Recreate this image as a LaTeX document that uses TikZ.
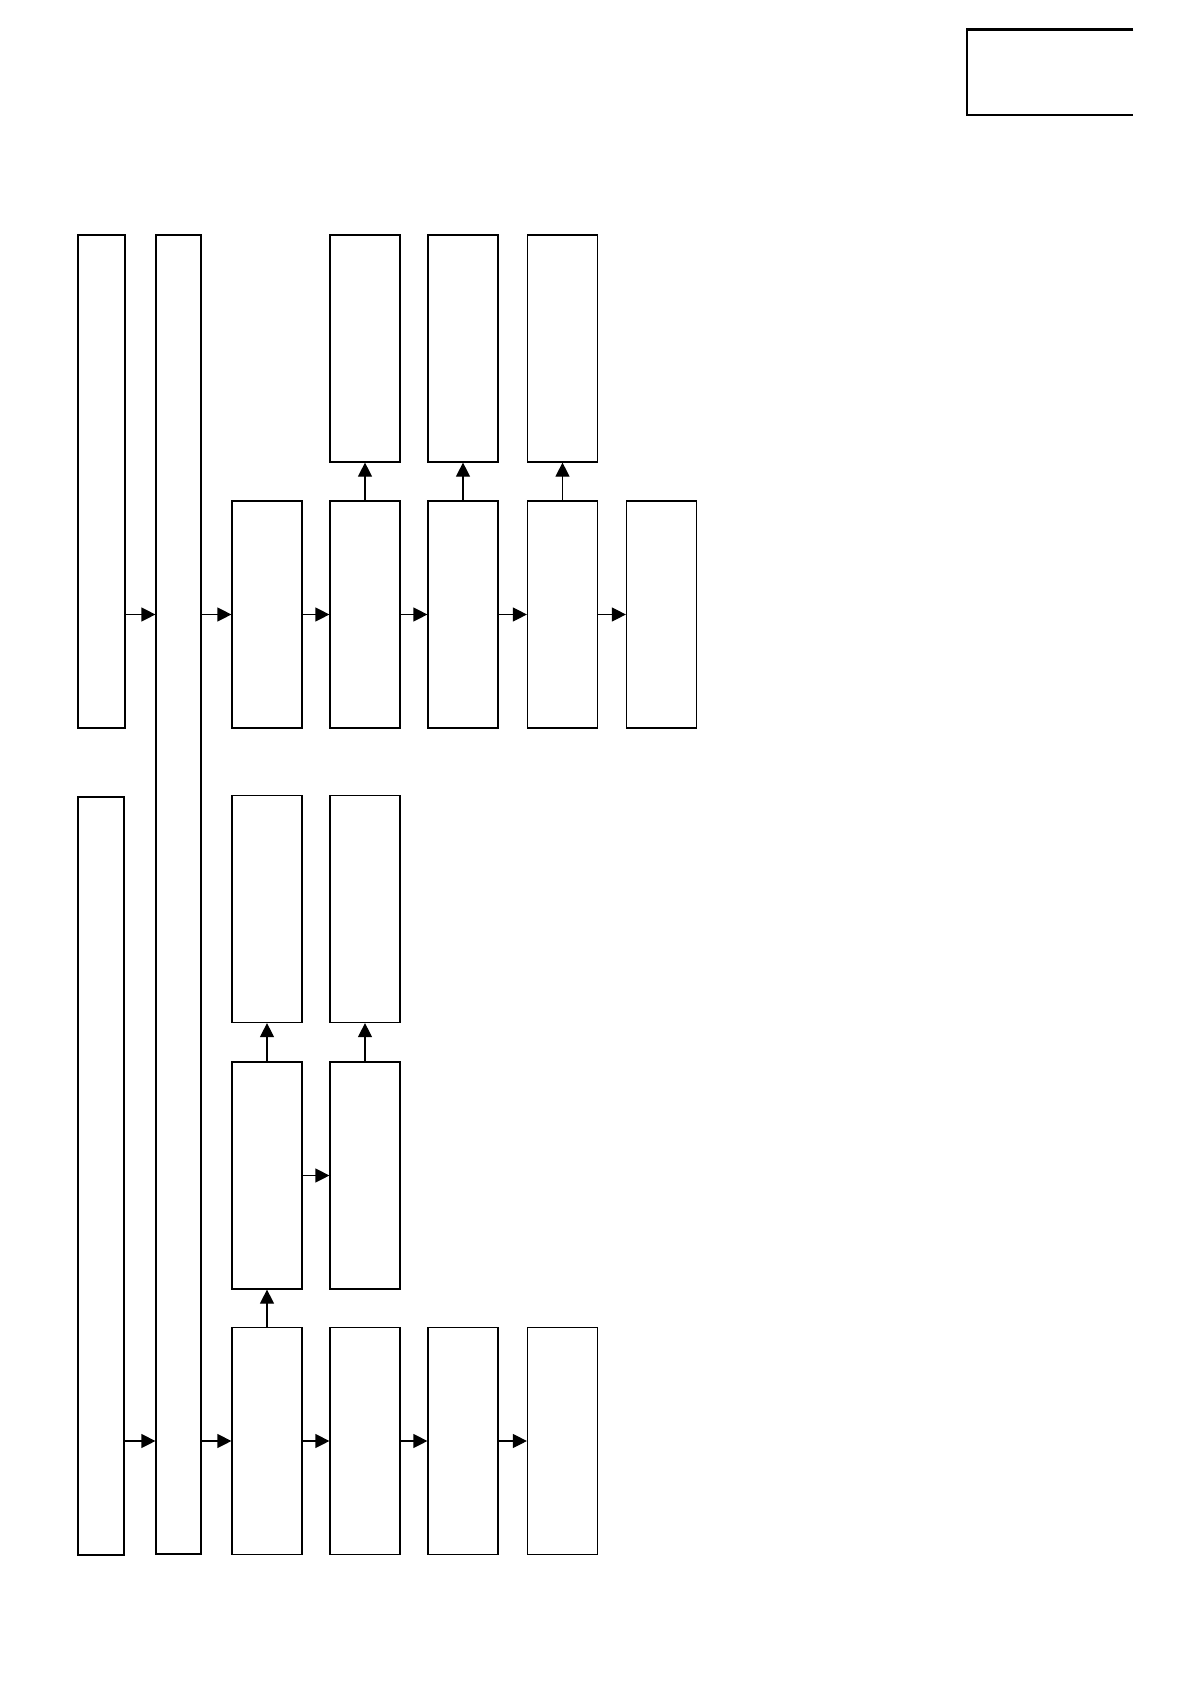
\documentclass[tikz,border=0pt]{standalone}
\usetikzlibrary{arrows.meta}
\begin{document}
\begin{tikzpicture}[x=0.5pt,y=-0.5pt,
  box/.style={draw, line width=0.6pt, inner sep=0pt, minimum width=35pt, minimum height=113.5pt},
  thickbox/.style={draw, line width=1.2pt, inner sep=0pt},
  arr/.style={line width=0.6pt, -{Triangle[length=7pt,width=7pt]}}]
\useasboundingbox (0,0) rectangle (1190,1684);
% legend box open on the right
\node[inner sep=0pt, minimum width=83pt, minimum height=42.5pt] (legend) at (1050,72.5) {};
\draw[line width=1.1pt] (legend.north east) -- (legend.north west) -- (legend.south west) -- (legend.south east);
% left columns
\node[thickbox, minimum width=23.5pt, minimum height=246.5pt] (t1) at (101.5,481.5) {};
\node[thickbox, minimum width=23pt, minimum height=379pt] (t2) at (101,1176) {};
\node[box, minimum width=22.5pt, minimum height=659.5pt] (long) at (178.5,894.5) {};
% row 1
\node[box] (b1) at (365,348.5) {};
\node[box] (c1) at (463,348.5) {};
\node[box] (d1) at (562.5,348.5) {};
% row 2
\node[box] (a2) at (267,614.5) {};
\node[box] (b2) at (365,614.5) {};
\node[box] (c2) at (463,614.5) {};
\node[box] (d2) at (562.5,614.5) {};
\node[box] (e2) at (661.5,614.5) {};
% row 3
\node[box] (a3) at (267,909) {};
\node[box] (b3) at (365,909) {};
% row 4
\node[box] (a4) at (267,1175.5) {};
\node[box] (b4) at (365,1175.5) {};
% row 5
\node[box] (a5) at (267,1441) {};
\node[box] (b5) at (365,1441) {};
\node[box] (c5) at (463,1441) {};
\node[box] (d5) at (562.5,1441) {};
% arrows row 2
\draw[arr] (t1.east |- a2) -- (long.west |- a2);
\draw[arr] (long.east |- a2) -- (a2.west);
\draw[arr] (a2) -- (b2);
\draw[arr] (b2) -- (c2);
\draw[arr] (c2) -- (d2);
\draw[arr] (d2) -- (e2);
\draw[arr] (b2) -- (b1);
\draw[arr] (c2) -- (c1);
\draw[arr] (d2) -- (d1);
% arrows row 5
\draw[arr] (t2.east |- a5) -- (long.west |- a5);
\draw[arr] (long.east |- a5) -- (a5.west);
\draw[arr] (a5) -- (b5);
\draw[arr] (b5) -- (c5);
\draw[arr] (c5) -- (d5);
\draw[arr] (a5) -- (a4);
% arrows row 4
\draw[arr] (a4) -- (b4);
\draw[arr] (a4) -- (a3);
\draw[arr] (b4) -- (b3);
\end{tikzpicture}
\end{document}
